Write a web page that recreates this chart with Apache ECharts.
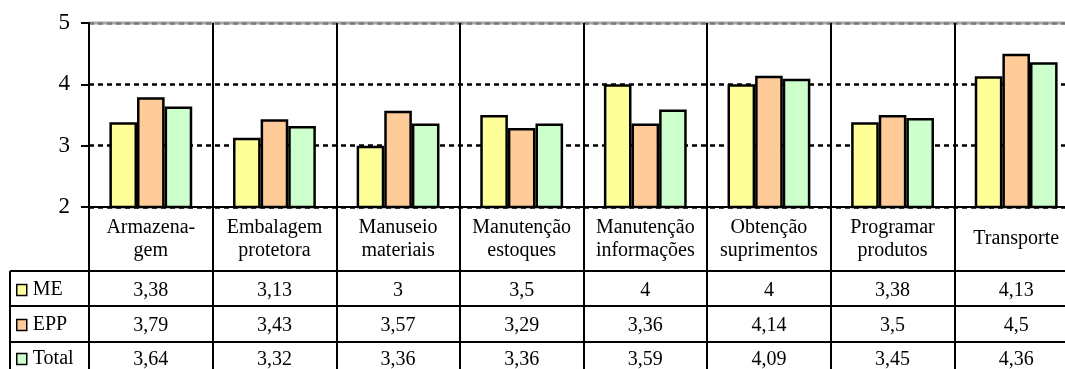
<!DOCTYPE html>
<html>
<head>
<meta charset="utf-8">
<script src="https://cdn.jsdelivr.net/npm/echarts@6/dist/echarts.min.js"></script>
<style>
  html, body { margin: 0; padding: 0; background: #fff; }
  #chart { width: 1065px; height: 369px; }
</style>
</head>
<body>
<div id="chart"></div>
<script>
// Categories (header row of the data table)
const categories = [
  'Armazena-\ngem',
  'Embalagem\nprotetora',
  'Manuseio\nmateriais',
  'Manutenção\nestoques',
  'Manutenção\ninformações',
  'Obtenção\nsuprimentos',
  'Programar\nprodutos',
  'Transporte'
];

// Series values
const seriesNames = ['ME', 'EPP', 'Total'];
const valuesME    = [3.38, 3.13, 3.00, 3.50, 4.00, 4.00, 3.38, 4.13];
const valuesEPP   = [3.79, 3.43, 3.57, 3.29, 3.36, 4.14, 3.50, 4.50];
const valuesTotal = [3.64, 3.32, 3.36, 3.36, 3.59, 4.09, 3.45, 4.36];

// Value axis ticks
const yTicks = [2, 3, 4, 5];

const FONT = 'Liberation Serif';
const colors = ['#FFFF99', '#FFCC99', '#CCFFCC'];
const allValues = [valuesME, valuesEPP, valuesTotal];

// Plot frame (the last column runs past the right edge of the page)
const G = { left: 89, top: 23, width: 989, height: 184 };
const tableLeft = 10;
const rowTop = [271, 306, 342];        // row separators of the data table
const tableBottom = 369;
const gridBottomY = G.top + G.height;

const fmt = v => String(Math.round(v * 100) / 100).replace('.', ',');

// One offset x axis per table row, labels printed at the category centres
function rowAxis(values, offset, half) {
  return {
    type: 'category',
    data: categories,
    gridIndex: 0,
    position: 'bottom',
    offset: offset,
    axisLine: { show: false, onZero: false },
    axisTick: { show: false },
    splitLine: { show: false },
    axisLabel: {
      interval: 0,
      margin: half,
      verticalAlign: 'middle',
      fontFamily: FONT,
      fontSize: 20,
      color: '#000',
      formatter: (val, idx) => fmt(values[idx])
    }
  };
}

const xAxes = [
  {
    type: 'category',
    data: categories,
    position: 'bottom',
    axisLine: { show: true, onZero: false, lineStyle: { color: '#000', width: 2 } },
    axisTick: {
      show: true, interval: 0, inside: false,
      length: tableBottom - gridBottomY,
      lineStyle: { color: '#000', width: 2 }
    },
    splitLine: { show: true, interval: 0, lineStyle: { color: '#000', width: 2 } },
    axisLabel: {
      interval: 0,
      margin: (rowTop[0] - gridBottomY) / 2,
      verticalAlign: 'middle',
      lineHeight: 23,
      fontFamily: FONT,
      fontSize: 20,
      color: '#000'
    }
  },
  rowAxis(valuesME,    rowTop[0] - gridBottomY, (rowTop[1] - rowTop[0]) / 2 + 2),
  rowAxis(valuesEPP,   rowTop[1] - gridBottomY, (rowTop[2] - rowTop[1]) / 2 + 2),
  rowAxis(valuesTotal, rowTop[2] - gridBottomY, (tableBottom + 4 - rowTop[2]) / 2 + 2)
];

const series = seriesNames.map((name, i) => ({
  name: name,
  type: 'bar',
  xAxisIndex: 0,
  yAxisIndex: 0,
  data: allValues[i],
  barGap: '0%',
  barCategoryGap: '33%',
  itemStyle: { color: colors[i], borderColor: '#000', borderWidth: 2.5 },
  emphasis: { disabled: true },
  animation: false
}));

// One legend block per table row, sitting in the left column
const legendCenters = [290, 325, 359];
const legends = seriesNames.map((name, i) => ({
  data: [name],
  orient: 'vertical',
  left: 16,
  top: legendCenters[i] - 10,
  padding: 0,
  icon: 'rect',
  itemWidth: 10,
  itemHeight: 11,
  selectedMode: false,
  itemStyle: { borderColor: '#000', borderWidth: 1.5 },
  textStyle: { fontFamily: FONT, fontSize: 20, color: '#000', lineHeight: 20, padding: [0, 0, 0, 1] }
}));

// Table rules that lie outside the axes
const tableRight = G.left + G.width;
const graphics = [
  { type: 'line', z: 0, shape: { x1: G.left, y1: G.top, x2: tableRight, y2: G.top },
    style: { stroke: '#a8a8a8', lineWidth: 3 } },
  { type: 'line', z: 10, shape: { x1: G.left, y1: gridBottomY, x2: tableRight, y2: gridBottomY },
    style: { stroke: '#000', lineWidth: 2 } },
  { type: 'line', z: 10, shape: { x1: tableLeft, y1: rowTop[0], x2: tableLeft, y2: tableBottom },
    style: { stroke: '#000', lineWidth: 2 } }
].concat(rowTop.map(y => ({
  type: 'line', z: 10, shape: { x1: tableLeft, y1: y, x2: tableRight, y2: y },
  style: { stroke: '#000', lineWidth: 2 }
})));

const option = {
  animation: false,
  backgroundColor: '#fff',
  grid: {
    left: G.left, top: G.top, width: G.width, height: G.height,
    containLabel: false,
    outerBoundsMode: 'none'
  },
  xAxis: xAxes,
  yAxis: {
    type: 'value',
    min: yTicks[0],
    max: yTicks[yTicks.length - 1],
    interval: 1,
    axisLine: { show: true, lineStyle: { color: '#000', width: 2 } },
    axisTick: { show: true, length: 8, lineStyle: { color: '#000', width: 2 } },
    axisLabel: { margin: 19, fontFamily: FONT, fontSize: 23, color: '#000' },
    splitLine: {
      show: true,
      lineStyle: { color: ['#000', '#000', '#000', '#7a7a7a'], width: 2.5, type: [5, 4] }
    }
  },
  legend: legends,
  series: series,
  graphic: graphics
};

const chart = echarts.init(document.getElementById('chart'), null, { renderer: 'canvas' });
chart.setOption(option);
</script>
</body>
</html>
